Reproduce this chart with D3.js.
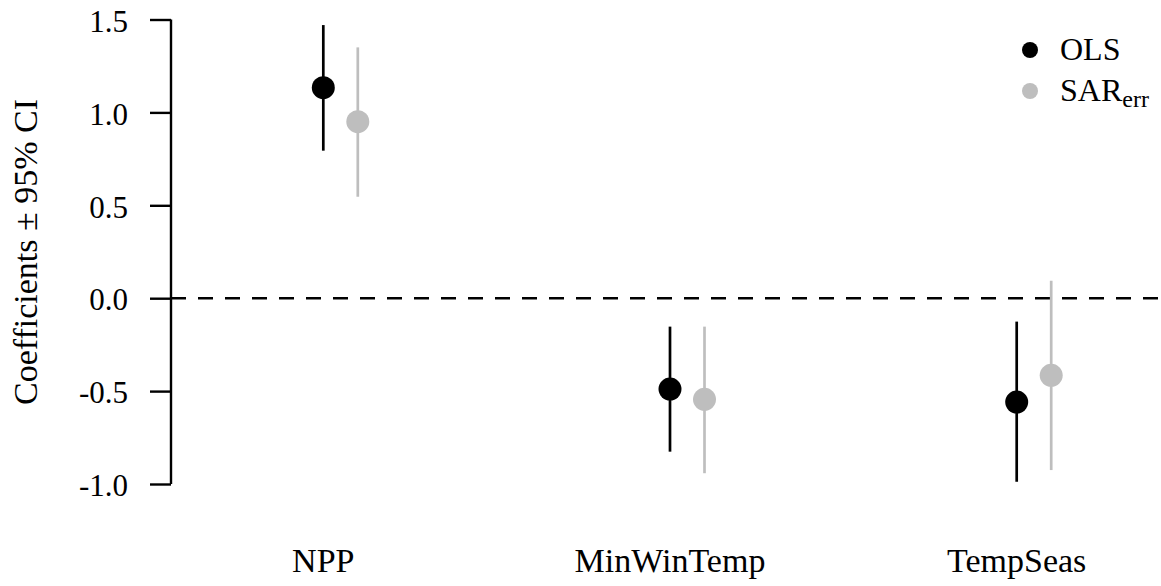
<!DOCTYPE html>
<html>
<head>
<meta charset="utf-8">
<script src="https://cdn.jsdelivr.net/npm/d3@7"></script>
<style>
  html, body { margin: 0; padding: 0; background: #fff; }
  text { font-family: "Liberation Serif", "Times New Roman", serif; fill: #000; }
</style>
</head>
<body>
<div id="chart"></div>
<script>
// coefficient estimates with 95% CI
var categories = ['NPP', 'MinWinTemp', 'TempSeas'];
var olsEst = [1.133, -0.489, -0.559];
var olsLow = [0.794, -0.826, -0.988];
var olsHigh = [1.470, -0.153, -0.126];
var sarEst = [0.950, -0.544, -0.415];
var sarLow = [0.546, -0.942, -0.925];
var sarHigh = [1.350, -0.153, 0.094];
var yTicks = [-1.0, -0.5, 0.0, 0.5, 1.0, 1.5];

var width = 1161;
var height = 586;

var svg = d3.select('#chart')
    .append('svg')
    .attr('width', width)
    .attr('height', height);

var x = d3.scaleLinear().domain([0, 2]).range([323.3, 1016.7]);
var y = d3.scaleLinear().domain([-1, 1.5]).range([484, 19.5]);
var offset = 34.5; // SAR points sit a little right of OLS

// zero reference line
svg.append('line')
    .attr('x1', 171).attr('x2', width)
    .attr('y1', y(0)).attr('y2', y(0))
    .attr('stroke', '#000')
    .attr('stroke-width', 2.4)
    .attr('stroke-dasharray', '15,12');

// y axis
var yAxis = d3.axisLeft(y)
    .tickValues(yTicks)
    .tickSize(21)
    .tickPadding(22);

var gy = svg.append('g')
    .attr('transform', 'translate(171,0)')
    .call(yAxis);
gy.attr('font-family', null);
gy.select('.domain').attr('d', 'M0,' + y(1.5) + 'V' + y(-1)).attr('stroke-width', 2.4);
gy.selectAll('.tick line').attr('stroke-width', 2.4);
gy.selectAll('.tick text')
    .attr('font-size', 31)
    .attr('dy', '0.38em')
    .text(function (d) { return d3.format('.1f')(d).replace('\u2212', '-'); });

svg.append('text')
    .attr('transform', 'translate(37,252) rotate(-90)')
    .attr('text-anchor', 'middle')
    .attr('font-size', 34)
    .text('Coefficients \u00b1 95% CI');

// category labels
svg.selectAll('.cat')
    .data(categories)
    .enter().append('text')
    .attr('class', 'cat')
    .attr('x', function (d, i) { return x(i); })
    .attr('y', 572)
    .attr('text-anchor', 'middle')
    .attr('font-size', 34)
    .text(function (d) { return d; });

function drawSeries(est, low, high, dx, color) {
    var g = svg.append('g');
    g.selectAll('line')
        .data(est)
        .enter().append('line')
        .attr('x1', function (d, i) { return x(i) + dx; })
        .attr('x2', function (d, i) { return x(i) + dx; })
        .attr('y1', function (d, i) { return y(low[i]); })
        .attr('y2', function (d, i) { return y(high[i]); })
        .attr('stroke', color)
        .attr('stroke-width', 2.7);
    g.selectAll('circle')
        .data(est)
        .enter().append('circle')
        .attr('cx', function (d, i) { return x(i) + dx; })
        .attr('cy', function (d) { return y(d); })
        .attr('r', 11.5)
        .attr('fill', color);
}

drawSeries(olsEst, olsLow, olsHigh, 0, '#000000');
drawSeries(sarEst, sarLow, sarHigh, offset, '#bebebe');

// legend
var legend = svg.append('g');
legend.append('circle').attr('cx', 1030).attr('cy', 50).attr('r', 8).attr('fill', '#000000');
legend.append('circle').attr('cx', 1030).attr('cy', 91).attr('r', 8).attr('fill', '#bebebe');
legend.append('text').attr('x', 1060).attr('y', 60).attr('font-size', 32).text('OLS');
var sar = legend.append('text').attr('x', 1060).attr('y', 101).attr('font-size', 32);
sar.append('tspan').text('SAR');
sar.append('tspan').attr('dy', 6).attr('font-size', 24).text('err');
</script>
</body>
</html>
